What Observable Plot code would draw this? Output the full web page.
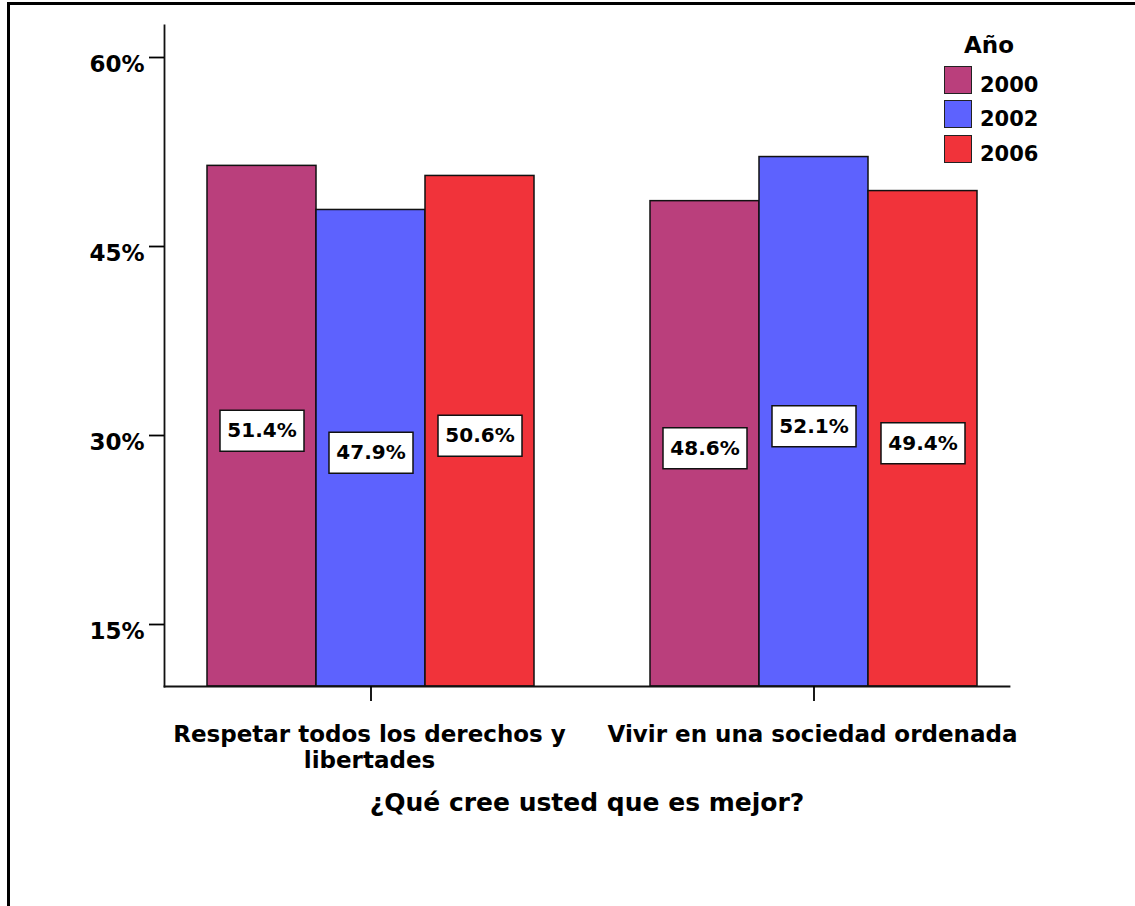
<!DOCTYPE html>
<html>
<head>
<meta charset="utf-8">
<script src="https://cdn.jsdelivr.net/npm/d3@7"></script>
<script src="https://cdn.jsdelivr.net/npm/@observablehq/plot@0.6"></script>
<style>
  html, body { margin: 0; padding: 0; background: #fff; overflow: hidden; }
  #wrap { position: relative; width: 1135px; height: 906px; font-family: "DejaVu Sans", sans-serif; font-weight: bold; color: #000; }
  #border { position: absolute; left: 7px; top: 2px; width: 1200px; height: 1000px; border-top: 3px solid #000; border-left: 3px solid #000; pointer-events: none; }
  #chart { position: absolute; left: 0; top: 0; }
  .leg-title { position: absolute; font-size: 23px; line-height: 23px; }
  .leg-item { position: absolute; font-size: 21px; line-height: 21px; }
  .leg-swatch { position: absolute; width: 28px; height: 28px; box-sizing: border-box; border: 1.5px solid #222; }
</style>
</head>
<body>
<div id="wrap">
  <div id="chart"></div>
  <div id="border"></div>
</div>
<script>
// ---- data ----
const categories = ["Respetar todos los derechos y libertades", "Vivir en una sociedad ordenada"];
const categoryTickLabels = ["Respetar todos los derechos y\nlibertades", "Vivir en una sociedad ordenada"];
const years = ["2000", "2002", "2006"];
const yearColors = ["#BA3F7C", "#5D62FE", "#F1333A"];
const values2000 = [51.4, 48.6];
const values2002 = [47.9, 52.1];
const values2006 = [50.6, 49.4];
const yTicks = [15, 30, 45, 60];
const yDomain = [10.08, 62.54];
const axisTitle = "¿Qué cree usted que es mejor?";
const legendTitle = "Año";

const seriesValues = [values2000, values2002, values2006];
const rows = categories.flatMap((c, i) =>
  years.map((yr, j) => ({ category: c, year: yr, value: seriesValues[j][i] }))
);

const boxSymbol = {
  draw(context) {
    context.moveTo(-42, -20.5);
    context.lineTo(42, -20.5);
    context.lineTo(42, 20.5);
    context.lineTo(-42, 20.5);
    context.closePath();
  }
};

const labelY = d => (d.value + yDomain[0]) / 2;

const chart = Plot.plot({
  width: 1135,
  height: 906,
  marginLeft: 163,
  marginRight: 125,
  marginTop: 25,
  marginBottom: 220,
  style: { fontFamily: "DejaVu Sans, sans-serif", fontWeight: "bold", fontSize: "23px", color: "#000", background: "transparent" },
  fx: { domain: categories, paddingInner: 0.0923, paddingOuter: 0, align: 0.5 },
  x: { domain: years, paddingInner: 0, paddingOuter: 0.343, align: 0.573 },
  y: { domain: yDomain },
  color: { domain: years, range: yearColors },
  marks: [
    Plot.barY(rows, { fx: "category", x: "year", y1: yDomain[0], y2: "value", fill: "year", stroke: "#111", strokeWidth: 1.5 }),
    Plot.frame({ anchor: "left", facet: "super", stroke: "#111", strokeWidth: 1.8 }),
    Plot.frame({ anchor: "bottom", facet: "super", stroke: "#111", strokeWidth: 1.8 }),
    Plot.axisY({ ticks: yTicks, tickSize: 15, tickFormat: () => "", label: null, strokeWidth: 1.8 }),
    Plot.axisY({ ticks: yTicks, tickSize: 0, tickPadding: 20, dy: 7, tickFormat: d => d + "%", label: null, fontSize: 23 }),
    Plot.axisX({ ticks: [years[1]], tickSize: 15, tickFormat: () => "", label: null, strokeWidth: 1.8 }),
    Plot.axisFx({
      anchor: "bottom", tickSize: 0, tickPadding: 38, dx: 4, fontSize: 23, lineHeight: 1.1,
      tickFormat: d => categoryTickLabels[categories.indexOf(d)],
      label: null
    }),
    Plot.axisFx({
      anchor: "bottom", tickSize: 0, tickFormat: () => "", fontSize: 25,
      label: axisTitle, labelAnchor: "center", labelOffset: 124
    }),
    Plot.dot(rows, { fx: "category", x: "year", y: labelY, dy: 4.5, symbol: boxSymbol, fill: "white", stroke: "#111", strokeWidth: 1.5 }),
    Plot.text(rows, { fx: "category", x: "year", y: labelY, dy: 4.5, text: d => d.value.toFixed(1) + "%", fontSize: 20, fontWeight: "bold", fill: "#000" })
  ]
});
document.getElementById("chart").appendChild(chart);

// ---- legend (HTML) ----
const wrap = document.getElementById("wrap");
const t = document.createElement("div");
t.className = "leg-title";
t.textContent = legendTitle;
t.style.left = "940px";
t.style.width = "98px";
t.style.textAlign = "center";
t.style.top = "34px";
wrap.appendChild(t);
years.forEach((yr, i) => {
  const sw = document.createElement("div");
  sw.className = "leg-swatch";
  sw.style.left = "944px";
  sw.style.top = (66 + i * 34.3) + "px";
  sw.style.background = yearColors[i];
  wrap.appendChild(sw);
  const lab = document.createElement("div");
  lab.className = "leg-item";
  lab.textContent = yr;
  lab.style.left = "980px";
  lab.style.top = (75 + i * 34.3) + "px";
  wrap.appendChild(lab);
});
</script>
</body>
</html>
